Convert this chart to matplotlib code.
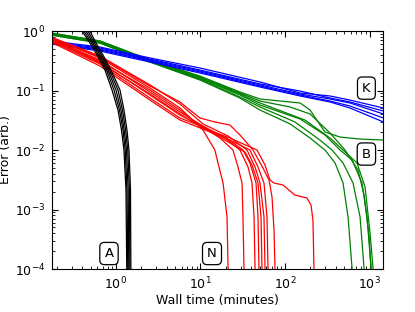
import matplotlib
matplotlib.use("Agg")
import matplotlib.pyplot as plt

# --- A: black runs (shared error levels) ---
a_err = [1.31, 1.0, 0.628, 0.395, 0.221, 0.102, 0.047, 0.0217, 0.01, 2.13e-3, 4.4e-5]
a_t = [
    [0.355, 0.396, 0.492, 0.596, 0.741, 0.897, 1.056, 1.162, 1.243, 1.313, 1.349],
    [0.375, 0.418, 0.513, 0.621, 0.772, 0.947, 1.100, 1.210, 1.285, 1.349, 1.387],
    [0.396, 0.442, 0.534, 0.647, 0.804, 1.000, 1.146, 1.250, 1.331, 1.394, 1.425],
    [0.418, 0.466, 0.557, 0.674, 0.838, 1.056, 1.194, 1.299, 1.379, 1.441, 1.465],
    [0.442, 0.492, 0.580, 0.702, 0.873, 1.115, 1.243, 1.349, 1.425, 1.485, 1.505],
]

# --- K: blue runs (shared times) ---
k_t = [0.17, 0.647, 2.53, 9.86, 50.6, 151, 341, 588, 1460]
k_err = [
    [0.679, 0.538, 0.352, 0.239, 0.139, 0.0908, 0.0809, 0.069, 0.0508],
    [0.653, 0.518, 0.338, 0.221, 0.129, 0.098, 0.0748, 0.0641, 0.0452],
    [0.628, 0.498, 0.326, 0.213, 0.124, 0.0873, 0.0720, 0.0617, 0.0403],
    [0.616, 0.480, 0.313, 0.205, 0.119, 0.084, 0.0666, 0.0549, 0.0345],
    [0.605, 0.461, 0.301, 0.197, 0.1145, 0.0809, 0.0641, 0.0508, 0.0296],
]

# --- B: green runs ---
b_t = [
    [0.17, 0.647, 2.53, 9.86, 29.3, 50.6, 115, 198, 297, 391, 486, 557, 621, 656],
    [0.17, 0.647, 2.53, 9.86, 29.3, 50.6, 131, 259, 360, 486, 638, 773, 861, 910],
    [0.17, 0.647, 2.53, 9.86, 29.3, 50.6, 151, 297, 448, 621, 815, 934, 1042, 1071],
    [0.17, 0.647, 2.53, 9.86, 29.3, 50.6, 172, 341, 486, 711, 885, 1014, 1100, 1131],
    [0.17, 0.647, 2.53, 9.86, 29.3, 50.6, 115, 198, 341, 513, 731, 861, 986, 1042, 1071],
    [0.17, 0.647, 2.53, 9.86, 29.3, 50.6, 151, 198, 246, 297, 448, 773, 1460],
]
b_err = [
    [0.857, 0.628, 0.301, 0.150, 0.0748, 0.047, 0.0274, 0.0159, 0.01, 6.05e-3, 2.79e-3, 7.48e-4, 1.04e-4, 3.0e-5],
    [0.857, 0.628, 0.301, 0.156, 0.0778, 0.0528, 0.0296, 0.0147, 0.01, 6.05e-3, 2.79e-3, 7.48e-4, 1.04e-4, 3.0e-5],
    [0.89, 0.653, 0.313, 0.162, 0.084, 0.057, 0.0332, 0.0179, 0.01, 6.8e-3, 2.79e-3, 7.48e-4, 1.04e-4, 3.0e-5],
    [0.89, 0.653, 0.313, 0.162, 0.0873, 0.0617, 0.0319, 0.0159, 0.01, 6.05e-3, 2.39e-3, 4.03e-4, 1.04e-4, 3.0e-5],
    [0.926, 0.679, 0.326, 0.169, 0.0908, 0.0666, 0.0528, 0.0403, 0.0193, 0.01, 4.6e-3, 1.75e-3, 3.7e-4, 1.04e-4, 3.0e-5],
    [0.926, 0.679, 0.326, 0.175, 0.0944, 0.0720, 0.0617, 0.047, 0.0296, 0.0201, 0.0165, 0.0153, 0.0147],
]

# --- N: red runs ---
n_t = [
    [0.17, 0.647, 2.53, 5.72, 10.7, 14.8, 16.1, 18.5, 20.6, 21.2, 21.4],
    [0.17, 0.647, 2.53, 5.72, 11.3, 17.0, 24.2, 27.8, 31.0, 31.8, 32.7, 33.2],
    [0.17, 0.647, 2.53, 5.72, 10.7, 19.5, 29.3, 36.5, 40.7, 43.0, 44.2, 44.8],
    [0.17, 0.647, 2.53, 5.72, 10.7, 19.5, 31.8, 38.5, 45.4, 47.9, 49.2, 49.9],
    [0.17, 0.647, 2.53, 5.72, 10.7, 21.2, 35.5, 44.2, 50.6, 56.4, 58.0, 58.8],
    [0.17, 0.647, 2.53, 5.72, 10.7, 22.3, 38.5, 47.9, 56.4, 61.2, 62.9, 63.8],
    [0.17, 0.647, 2.53, 5.72, 9.86, 14.8, 22.3, 29.3, 41.8, 54.9, 64.7, 70.2, 74.1, 76.1, 77.2],
    [0.17, 0.647, 2.53, 5.72, 10.7, 22.3, 46.6, 58.0, 66.4, 74.1, 94.7, 131, 182, 203, 214, 220, 223],
    [0.17, 0.647, 2.53, 5.72, 10.7, 19.5, 33.6, 40.7, 47.9, 52.0, 53.4, 54.2],
]
n_err = [
    [0.763, 0.352, 0.110, 0.0508, 0.0217, 0.01, 6.05e-3, 2.79e-3, 7.48e-4, 1.04e-4, 3.0e-5],
    [0.706, 0.301, 0.084, 0.0387, 0.0234, 0.0159, 0.01, 5.18e-3, 2.79e-3, 7.48e-4, 1.04e-4, 3.0e-5],
    [0.734, 0.326, 0.0944, 0.0435, 0.0253, 0.0159, 0.01, 5.18e-3, 2.79e-3, 7.48e-4, 1.04e-4, 3.0e-5],
    [0.679, 0.279, 0.0748, 0.0345, 0.0244, 0.0165, 0.01, 6.05e-3, 2.79e-3, 7.48e-4, 1.04e-4, 3.0e-5],
    [0.793, 0.380, 0.124, 0.0593, 0.0274, 0.0172, 0.01, 5.18e-3, 2.79e-3, 7.48e-4, 1.04e-4, 3.0e-5],
    [0.653, 0.258, 0.069, 0.0319, 0.0225, 0.0147, 0.01, 5.18e-3, 2.79e-3, 7.48e-4, 1.04e-4, 3.0e-5],
    [0.763, 0.366, 0.119, 0.0641, 0.0345, 0.0296, 0.0263, 0.0179, 0.01, 4.98e-3, 3.13e-3, 1.62e-3, 4.52e-4, 1.04e-4, 3.0e-5],
    [0.706, 0.313, 0.102, 0.047, 0.0234, 0.0159, 0.01, 5.6e-3, 3.13e-3, 2.79e-3, 2.58e-3, 1.75e-3, 1.56e-3, 1.19e-3, 6.7e-4, 1.04e-4, 3.0e-5],
    [0.734, 0.290, 0.0873, 0.0403, 0.0234, 0.0147, 9.25e-3, 5.6e-3, 2.79e-3, 7.48e-4, 1.04e-4, 3.0e-5],
]

plt.rcParams["font.family"] = "DejaVu Sans"
plt.rcParams["font.size"] = 9
for ax_name in ("xtick", "ytick"):
    plt.rcParams[f"{ax_name}.direction"] = "in"
    plt.rcParams[f"{ax_name}.major.size"] = 4
    plt.rcParams[f"{ax_name}.minor.size"] = 2
    plt.rcParams[f"{ax_name}.major.pad"] = 5
plt.rcParams["xtick.top"] = True
plt.rcParams["ytick.right"] = True

fig = plt.figure(figsize=(4.15, 3.12), dpi=100)
ax = fig.add_axes([0.1253, 0.1378, 0.7983, 0.7628])

lw = 0.9
for t, e in zip(b_t, b_err):
    ax.plot(t, e, color="green", lw=lw)
for e in k_err:
    ax.plot(k_t, e, color="blue", lw=lw)
for t, e in zip(n_t, n_err):
    ax.plot(t, e, color="red", lw=lw)
for t in a_t:
    ax.plot(t, a_err, color="black", lw=lw)

ax.set_xscale("log")
ax.set_yscale("log")
ax.set_xlim(0.175, 1455)
ax.set_ylim(1e-4, 1)
ax.set_xlabel("Wall time (minutes)", labelpad=1)
ax.set_ylabel("Error (arb.)", labelpad=2)

box = dict(boxstyle="round,pad=0.35", fc="white", ec="black", lw=0.9)
for letter, (bx, by) in {"A": (0.172, 0.065), "N": (0.483, 0.065),
                         "K": (0.949, 0.760), "B": (0.949, 0.483)}.items():
    ax.text(bx, by, letter, transform=ax.transAxes, ha="center", va="center",
            bbox=box, fontsize=9.5)

fig.savefig("out.png", dpi=100)
